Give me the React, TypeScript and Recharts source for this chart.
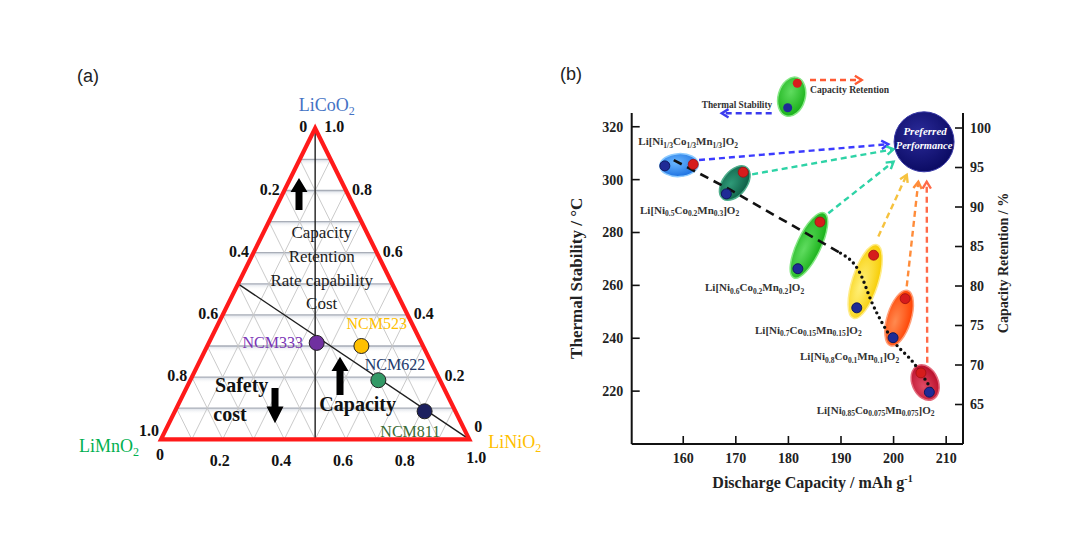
import React from 'react';
import { ScatterChart, Scatter, XAxis, YAxis, Cell } from 'recharts';

const SERIF = '"Liberation Serif", "Times New Roman", serif';
const SANS = '"Liberation Sans", Arial, sans-serif';

// (a) ternary diagram, compositions as Ni / Co fractions (Mn = 1 - Ni - Co)
const gridLevels = [0.1, 0.2, 0.3, 0.4, 0.5, 0.6, 0.7, 0.8, 0.9];
const edgeTicks = [0, 0.2, 0.4, 0.6, 0.8, 1.0];
const ncmNames = ['NCM333', 'NCM523', 'NCM622', 'NCM811'];
const ncmNi = [0.35, 0.5, 0.61, 0.81];
const ncmCo = [0.31, 0.3, 0.19, 0.09];

// (b) thermal stability & capacity retention vs discharge capacity
const capacityTicks = [160, 170, 180, 190, 200, 210];
const thermalTicks = [220, 240, 260, 280, 300, 320];
const retentionTicks = [65, 70, 75, 80, 85, 90, 95, 100];
const niSub = ['1/3', '0.5', '0.6', '0.7', '0.8', '0.85'];
const coSub = ['1/3', '0.2', '0.2', '0.15', '0.1', '0.075'];
const mnSub = ['1/3', '0.3', '0.2', '0.15', '0.1', '0.075'];
const thermalCapacity = [156.5, 168.2, 181.8, 193.0, 199.9, 206.8];
const thermalStability = [305.2, 294.6, 266.3, 251.5, 240.2, 219.6];
const retentionCapacity = [161.9, 171.4, 186.0, 196.2, 202.2, 205.2];
const capacityRetention = [95.4, 94.4, 88.1, 83.9, 78.4, 69.0];
const dashTrendCapacity = [158.2, 169.0, 189.9];
const dashTrendThermal = [307.4, 296.1, 272.2];
const dotTrendCapacity = [189.9, 193.6, 195.9, 200.0, 203.8, 207.6];
const dotTrendThermal = [272.2, 264.7, 253.4, 238.9, 230.7, 219.4];
const preferredCapacity = 205.8;
const preferredThermal = 314.3;
const arrowFromCapacity = [163.0, 173.1, 187.6, 197.1, 202.5, 206.4];
const arrowFromThermal = [307.4, 302.0, 287.3, 278.5, 259.6, 230.7];
const arrowToCapacity = [199.0, 200.0, 200.0, 202.5, 204.7, 206.3];
const arrowToThermal = [313.4, 311.5, 306.8, 301.8, 299.2, 299.2];

const capDomain = [150.2, 213.2];
const tDomain = [200, 325.2];
const rDomain = [60, 101.9];

// styles
const ncmColors = ['#7030a0', '#ffc000', '#339966', '#1b1f5e'];
const ncmLabelColors = ['#7a35b5', '#ffc000', '#22396b', '#3c6b34'];
const ncmLabelPos = [
  { x: 303, y: 347.5, anchor: 'end' },
  { x: 376.7, y: 329, anchor: 'middle' },
  { x: 395, y: 369.5, anchor: 'middle' },
  { x: 410.3, y: 436.5, anchor: 'middle' },
];
const ellipseLook = [
  { fill: 'url(#gBlue)', rim: '#8ccaff', pad: 5, ry: 11.5 },
  { fill: 'url(#gTeal)', rim: '#4fae8c', pad: 6, ry: 12 },
  { fill: 'url(#gGreen)', rim: '#86e886', pad: 10, ry: 12 },
  { fill: 'url(#gYellow)', rim: '#ffec8a', pad: 11, ry: 13 },
  { fill: 'url(#gOrange)', rim: '#ffa07a', pad: 8.5, ry: 12 },
  { fill: 'url(#gCrimson)', rim: '#e46a7c', pad: 8, ry: 13 },
];
const arrowColors = ['#3b3bff', '#2ed3a6', '#2ed3a6', '#f6c23e', '#ff8c3a', '#ff6a48'];
const formulaPos = [
  [638.3, 145], [640, 213.5], [705, 291], [755, 333.5], [800, 360], [816.7, 413.5],
];

const tern = (ni: number, co: number) => ({ x: ni + co / 2, y: co });
const fmt = (t: number) => (t === 0 ? '0' : t.toFixed(1));
const retentionOnThermal = (r: number) =>
  tDomain[0] + ((r - rDomain[0]) * (tDomain[1] - tDomain[0])) / (rDomain[1] - rDomain[0]);

const hidden = () => <g />;

function pairSegments(stroke: string, width: number, band = false) {
  return (props: any) => {
    const pts = props.points || [];
    const out: any[] = [];
    for (let i = 0; i + 1 < pts.length; i += 2) {
      const a = pts[i];
      const b = pts[i + 1];
      if (band) {
        out.push(
          <rect key={'b' + i} x={Math.min(a.x, b.x)} y={a.y} width={Math.abs(b.x - a.x)} height={6} fill="url(#band)" />
        );
      }
      out.push(<line key={i} x1={a.x} y1={a.y} x2={b.x} y2={b.y} stroke={stroke} strokeWidth={width} />);
    }
    return <g>{out}</g>;
  };
}

const framePolygon = (props: any) => {
  const pts = (props.points || []).map((p: any) => `${p.x},${p.y}`).join(' ');
  return <polygon points={pts} fill="none" stroke="#ff1a1a" strokeWidth={4.2} strokeLinejoin="miter" />;
};

const edgeLook: Record<string, { dx: number; dy: number; anchor: string }> = {
  left: { dx: -4.5, dy: 4, anchor: 'end' },
  right: { dx: 6, dy: 4, anchor: 'start' },
  bottom: { dx: -3, dy: 26.5, anchor: 'middle' },
};

const TickLabel = (props: any) => {
  const { cx, cy, payload } = props;
  const look = edgeLook[payload.edge];
  let dx = look.dx;
  let dy = look.dy;
  if (payload.edge === 'left' && payload.t === 0) dx = -8;
  if (payload.edge === 'left' && payload.t === 1) { dx = -2; dy = -3; }
  if (payload.edge === 'right' && payload.t === 1) dx = 9;
  if (payload.edge === 'right' && payload.t === 0) { dx = 5; dy = -7; }
  if (payload.edge === 'bottom' && payload.t === 0) { dx = -1; dy = 21; }
  if (payload.edge === 'bottom' && payload.t === 1) { dx = 7; dy = 24; }
  return (
    <text x={cx + dx} y={cy + dy} textAnchor={look.anchor as any} fontFamily={SERIF} fontWeight="bold" fontSize={16} fill="#111">
      {payload.label}
    </text>
  );
};

const ncmDot = (props: any) => (
  <circle cx={props.cx} cy={props.cy} r={7.5} fill={props.fill} stroke="#222" strokeWidth={1} />
);

function TernaryPanel() {
  const horiz = gridLevels.flatMap((k) => [tern(0, k), tern(1 - k, k)]);
  const niLines = gridLevels.flatMap((k) => [tern(k, 0), tern(k, 1 - k)]);
  const mnLines = gridLevels.flatMap((k) => [tern(1 - k, 0), tern(0, 1 - k)]);
  const guides = [tern(0, 1), tern(0.5, 0), tern(0, 0.5), tern(1, 0)];
  const frame = [tern(0, 0), tern(1, 0), tern(0, 1)];
  const ticks = [
    ...edgeTicks.map((t) => ({ ...tern(t, 0), label: fmt(t), edge: 'bottom', t })),
    ...edgeTicks.map((t) => ({ ...tern(0, 1 - t), label: fmt(t), edge: 'left', t })),
    ...edgeTicks.map((t) => ({ ...tern(1 - t, t), label: fmt(t), edge: 'right', t })),
  ];
  const ncm = ncmNames.map((name, i) => ({ ...tern(ncmNi[i], ncmCo[i]), name }));

  return (
    <ScatterChart width={480} height={420} margin={{ top: 68.3, right: 70.7, bottom: 40.7, left: 101 }}>
      <XAxis type="number" dataKey="x" domain={[0, 1]} hide />
      <YAxis type="number" dataKey="y" domain={[0, 1]} hide />
      <Scatter data={horiz} line={pairSegments('#a9aeb8', 1.3, true)} shape={hidden} isAnimationActive={false} />
      <Scatter data={niLines} line={pairSegments('#c4c4c4', 0.9)} shape={hidden} isAnimationActive={false} />
      <Scatter data={mnLines} line={pairSegments('#c4c4c4', 0.9)} shape={hidden} isAnimationActive={false} />
      <Scatter data={guides} line={pairSegments('#1e1e1e', 1.4)} shape={hidden} isAnimationActive={false} />
      <Scatter data={frame} line={framePolygon} shape={hidden} isAnimationActive={false} />
      <Scatter data={ncm} shape={ncmDot} isAnimationActive={false}>
        {ncm.map((d, i) => (
          <Cell key={d.name} fill={ncmColors[i]} />
        ))}
      </Scatter>
      <Scatter data={ticks} shape={TickLabel} isAnimationActive={false} />
    </ScatterChart>
  );
}

function ellipseLine(i: number) {
  const look = ellipseLook[i];
  return (props: any) => {
    const [a, b] = props.points;
    const cx = (a.x + b.x) / 2;
    const cy = (a.y + b.y) / 2;
    const d = Math.hypot(b.x - a.x, b.y - a.y);
    const ang = (Math.atan2(b.y - a.y, b.x - a.x) * 180) / Math.PI;
    return (
      <ellipse
        cx={cx}
        cy={cy}
        rx={d / 2 + look.pad}
        ry={look.ry}
        transform={`rotate(${ang} ${cx} ${cy})`}
        fill={look.fill}
        stroke={look.rim}
        strokeWidth={1.5}
      />
    );
  };
}

function DashArrow({ x1, y1, x2, y2, color }: any) {
  const ang = Math.atan2(y2 - y1, x2 - x1);
  const L = 8;
  const p1 = [x2 - L * Math.cos(ang - 0.55), y2 - L * Math.sin(ang - 0.55)];
  const p2 = [x2 - L * Math.cos(ang + 0.55), y2 - L * Math.sin(ang + 0.55)];
  return (
    <g>
      <line x1={x1} y1={y1} x2={x2} y2={y2} stroke={color} strokeWidth={2.4} strokeDasharray="6 4" />
      <polyline points={`${p1[0]},${p1[1]} ${x2},${y2} ${p2[0]},${p2[1]}`} fill="none" stroke={color} strokeWidth={2.4} />
    </g>
  );
}

function arrowLine(color: string) {
  return (props: any) => {
    const [a, b] = props.points;
    return <DashArrow x1={a.x} y1={a.y} x2={b.x} y2={b.y} color={color} />;
  };
}

const blueDot = (p: any) => <circle cx={p.cx} cy={p.cy} r={5} fill="#1f2b96" stroke="#10185e" strokeWidth={1} />;
const redDot = (p: any) => <circle cx={p.cx} cy={p.cy} r={5} fill="#d61c1c" stroke="#9e1010" strokeWidth={0.8} />;
const preferredShape = (p: any) => (
  <g>
    <circle cx={p.cx} cy={p.cy} r={30} fill="url(#gNavy)" stroke="#3a3aa8" strokeWidth={1} />
    <text x={p.cx + 1} y={p.cy - 7} textAnchor="middle" fontFamily={SERIF} fontWeight="bold" fontStyle="italic" fontSize={11} fill="#fff">
      Preferred
    </text>
    <text x={p.cx} y={p.cy + 7} textAnchor="middle" fontFamily={SERIF} fontWeight="bold" fontStyle="italic" fontSize={10.5} fill="#fff">
      Performance
    </text>
  </g>
);

const axisStyle = { stroke: '#111', strokeWidth: 2 };
const tickLineStyle = { stroke: '#111', strokeWidth: 1.6 };
const tickFont = { fontFamily: SERIF, fontWeight: 'bold', fontSize: 14, fill: '#222' };

function PerformancePanel() {
  const dashTrend = dashTrendCapacity.map((x, i) => ({ x, y: dashTrendThermal[i] }));
  const dotTrend = dotTrendCapacity.map((x, i) => ({ x, y: dotTrendThermal[i] }));
  const bluePts = thermalCapacity.map((x, i) => ({ x, y: thermalStability[i] }));
  const redPts = retentionCapacity.map((x, i) => ({ x, y: capacityRetention[i] }));

  return (
    <ScatterChart width={480} height={440} margin={{ top: 53, right: 0, bottom: 0, left: 0 }}>
      <XAxis
        type="number"
        dataKey="x"
        domain={capDomain}
        ticks={capacityTicks}
        height={56}
        tickSize={-8}
        tickMargin={17}
        axisLine={axisStyle}
        tickLine={tickLineStyle}
        tick={tickFont}
      />
      <YAxis
        yAxisId="left"
        type="number"
        dataKey="y"
        domain={tDomain}
        ticks={thermalTicks}
        width={71.7}
        tickSize={-8}
        tickMargin={16.5}
        axisLine={axisStyle}
        tickLine={tickLineStyle}
        tick={tickFont}
      />
      <YAxis
        yAxisId="right"
        orientation="right"
        type="number"
        dataKey="y"
        domain={rDomain}
        ticks={retentionTicks}
        width={77}
        tickSize={-8}
        tickMargin={15}
        axisLine={axisStyle}
        tickLine={tickLineStyle}
        tick={tickFont}
      />
      {thermalCapacity.map((x, i) => (
        <Scatter
          key={'e' + i}
          yAxisId="left"
          data={[
            { x, y: thermalStability[i] },
            { x: retentionCapacity[i], y: retentionOnThermal(capacityRetention[i]) },
          ]}
          line={ellipseLine(i)}
          shape={hidden}
          isAnimationActive={false}
        />
      ))}
      <Scatter
        yAxisId="left"
        data={dashTrend}
        line={{ stroke: '#111', strokeWidth: 2.6, strokeDasharray: '9 6' }}
        shape={hidden}
        isAnimationActive={false}
      />
      <Scatter
        yAxisId="left"
        data={dotTrend}
        line={{ stroke: '#111', strokeWidth: 3.4, strokeDasharray: '0 5.5', strokeLinecap: 'round' }}
        lineJointType="monotoneX"
        shape={hidden}
        isAnimationActive={false}
      />
      {arrowFromCapacity.map((x, i) => (
        <Scatter
          key={'a' + i}
          yAxisId="left"
          data={[
            { x, y: arrowFromThermal[i] },
            { x: arrowToCapacity[i], y: arrowToThermal[i] },
          ]}
          line={arrowLine(arrowColors[i])}
          shape={hidden}
          isAnimationActive={false}
        />
      ))}
      <Scatter yAxisId="left" data={bluePts} shape={blueDot} isAnimationActive={false} />
      <Scatter yAxisId="right" data={redPts} shape={redDot} isAnimationActive={false} />
      <Scatter
        yAxisId="left"
        data={[{ x: preferredCapacity, y: preferredThermal }]}
        shape={preferredShape}
        isAnimationActive={false}
      />
    </ScatterChart>
  );
}

function Formula({ i }: { i: number }) {
  const [x, y] = formulaPos[i];
  return (
    <text x={x} y={y} fontFamily={SERIF} fontWeight="bold" fontSize={11} fill="#333">
      Li[Ni<tspan dy={2.5} fontSize={7.5}>{niSub[i]}</tspan><tspan dy={-2.5}>Co</tspan><tspan dy={2.5} fontSize={7.5}>{coSub[i]}</tspan><tspan dy={-2.5}>Mn</tspan><tspan dy={2.5} fontSize={7.5}>{mnSub[i]}</tspan><tspan dy={-2.5}>]O</tspan><tspan dy={2.5} fontSize={7.5}>2</tspan>
    </text>
  );
}

function upArrow(cx: number, tip: number, base: number, tail: number) {
  const hw = 8.5;
  const sw = 3.5;
  return `${cx},${tip} ${cx + hw},${base} ${cx + sw},${base} ${cx + sw},${tail} ${cx - sw},${tail} ${cx - sw},${base} ${cx - hw},${base}`;
}

function Overlay() {
  return (
    <svg width={1080} height={544} style={{ position: 'absolute', left: 0, top: 0, pointerEvents: 'none' }}>
      <text x={77} y={82} fontFamily={SANS} fontSize={18} fill="#222">(a)</text>
      <text x={560} y={80} fontFamily={SANS} fontSize={18} fill="#222">(b)</text>

      {/* ternary vertex names */}
      <text x={326.7} y={111} textAnchor="middle" fontFamily={SERIF} fontSize={18} fill="#4472c4">
        LiCoO<tspan dy={4} fontSize={12}>2</tspan>
      </text>
      <text x={109} y={452} textAnchor="middle" fontFamily={SERIF} fontSize={18} fill="#00b050">
        LiMnO<tspan dy={4} fontSize={12}>2</tspan>
      </text>
      <text x={488.3} y={448} fontFamily={SERIF} fontSize={18} fill="#ffc000">
        LiNiO<tspan dy={4} fontSize={12}>2</tspan>
      </text>

      {/* property annotations */}
      <g fontFamily={SERIF} fontSize={17} fill="#1c1c1c" textAnchor="middle">
        <text x={321.7} y={238.3}>Capacity</text>
        <text x={321.7} y={262.3}>Retention</text>
        <text x={321.7} y={285.6}>Rate capability</text>
        <text x={321.7} y={309}>Cost</text>
      </g>
      <g fontFamily={SERIF} fontSize={20} fontWeight="bold" fill="#111" textAnchor="middle">
        <text x={241.7} y={391.6}>Safety</text>
        <text x={230} y={420.6}>cost</text>
        <text x={357.7} y={411}>Capacity</text>
      </g>
      <polygon points={upArrow(299, 178, 192, 210)} fill="#000" />
      <polygon points={upArrow(340, 356.7, 371, 395)} fill="#000" />
      <polygon points={upArrow(275, 423.3, 406.5, 388)} fill="#000" />

      {ncmNames.map((n, i) => (
        <text
          key={n}
          x={ncmLabelPos[i].x}
          y={ncmLabelPos[i].y}
          textAnchor={ncmLabelPos[i].anchor as any}
          fontFamily={SERIF}
          fontSize={16}
          fill={ncmLabelColors[i]}
        >
          {n}
        </text>
      ))}

      {/* panel (b) axis titles */}
      <text
        x={582.3}
        y={278.3}
        transform="rotate(-90 582.3 278.3)"
        textAnchor="middle"
        fontFamily={SERIF}
        fontWeight="bold"
        fontSize={17}
        fill="#222"
      >
        Thermal Stability / °C
      </text>
      <text
        x={1007.6}
        y={263}
        transform="rotate(-90 1007.6 263)"
        textAnchor="middle"
        fontFamily={SERIF}
        fontWeight="bold"
        fontSize={14}
        fill="#222"
      >
        Capacity Retention / %
      </text>
      <text x={812.5} y={488} textAnchor="middle" fontFamily={SERIF} fontWeight="bold" fontSize={16} fill="#222">
        Discharge Capacity / mAh g<tspan dy={-6} fontSize={10}>-1</tspan>
      </text>

      {niSub.map((_, i) => (
        <Formula key={i} i={i} />
      ))}

      {/* key at the top of panel (b) */}
      <ellipse cx={791.7} cy={96.7} rx={13.5} ry={20} transform="rotate(16 791.7 96.7)" fill="url(#gGreen)" stroke="#86e886" strokeWidth={1.5} />
      <circle cx={797.3} cy={83.3} r={4.5} fill="#d61c1c" />
      <circle cx={787.7} cy={107.7} r={4.5} fill="#1f2b96" />
      <DashArrow x1={810} y1={80} x2={861.7} y2={80} color="#ff5a33" />
      <DashArrow x1={771.7} y1={113.3} x2={721.7} y2={113.3} color="#3b3bee" />
      <text x={810} y={93} fontFamily={SERIF} fontWeight="bold" fontSize={9.6} fill="#333">Capacity Retention</text>
      <text x={701.7} y={107.5} fontFamily={SERIF} fontWeight="bold" fontSize={9.3} fill="#333">Thermal Stability</text>
    </svg>
  );
}

function Defs() {
  const grad = (id: string, light: string, base: string) => (
    <radialGradient id={id} cx="42%" cy="38%" r="65%">
      <stop offset="0" stopColor={light} />
      <stop offset="1" stopColor={base} />
    </radialGradient>
  );
  return (
    <svg width={0} height={0} style={{ position: 'absolute' }}>
      <defs>
        {grad('gBlue', '#6ab8ff', '#1a6fe0')}
        {grad('gTeal', '#2f9a78', '#0d5e45')}
        {grad('gGreen', '#5fdc5f', '#18b018')}
        {grad('gYellow', '#fff07a', '#f7cc00')}
        {grad('gOrange', '#ff8a50', '#ff4000')}
        {grad('gCrimson', '#e04a64', '#b80c28')}
        {grad('gNavy', '#2b2b9a', '#0a0a62')}
        <linearGradient id="band" x1="0" y1="0" x2="0" y2="1">
          <stop offset="0" stopColor="#d6dbe4" />
          <stop offset="1" stopColor="#ffffff" stopOpacity={0} />
        </linearGradient>
      </defs>
    </svg>
  );
}

export default function App() {
  return (
    <div style={{ position: 'absolute', left: 0, top: 0, width: 1080, height: 544, background: '#fff', overflow: 'hidden' }}>
      <Defs />
      <div style={{ position: 'absolute', left: 60, top: 60 }}>
        <TernaryPanel />
      </div>
      <div style={{ position: 'absolute', left: 560, top: 60 }}>
        <PerformancePanel />
      </div>
      <Overlay />
    </div>
  );
}
